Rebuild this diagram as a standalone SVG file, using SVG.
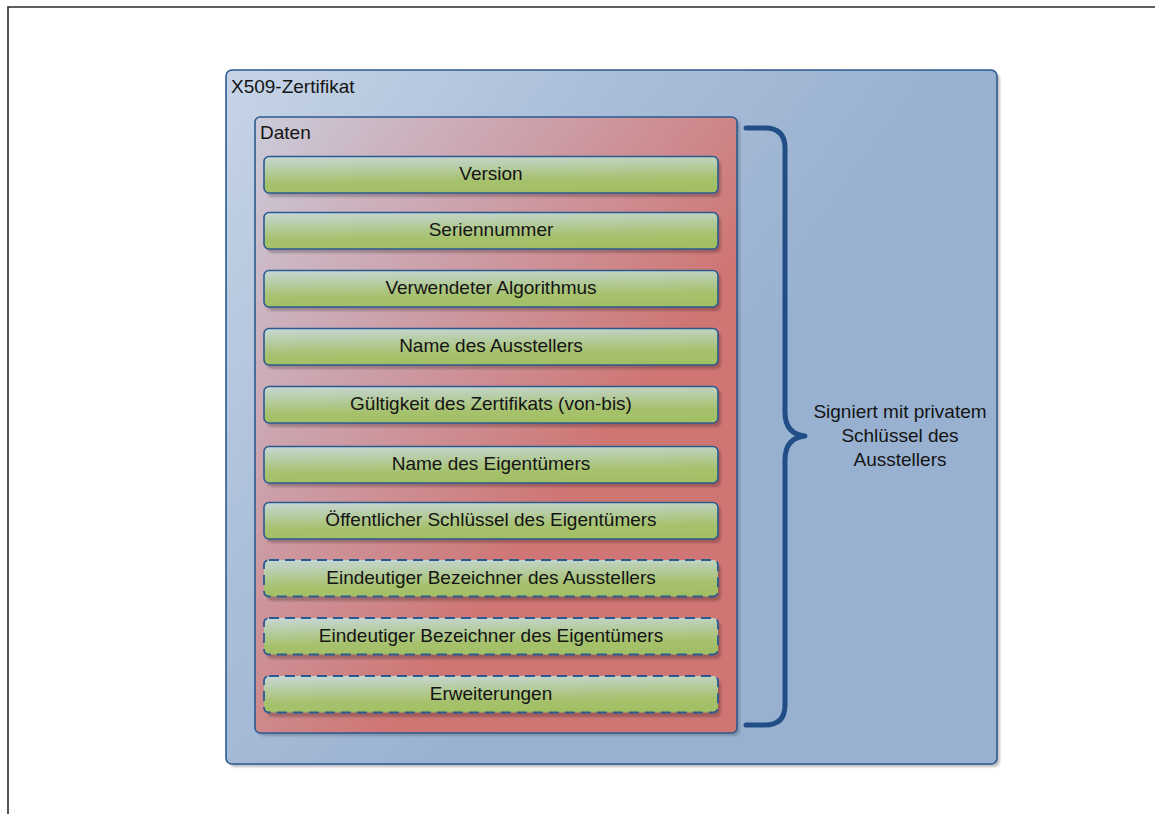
<svg xmlns="http://www.w3.org/2000/svg" width="1155" height="814" viewBox="0 0 1155 814">
  <style>
    text { font-family: "Liberation Sans", Arial, sans-serif; fill: #141414; }
    .lbl { font-size: 19px; }
    .field { font-size: 19px; text-anchor: middle; }
    .note { font-size: 19px; text-anchor: middle; }
    .shadow { fill: #000; opacity: 0.22; }
    .bar { fill: url(#gBar); stroke: #2b5a90; stroke-width: 1.6; }
    .opt { stroke-dasharray: 10 6; stroke-width: 1.8; }
  </style>
  <defs>
    <linearGradient id="gOuter" gradientUnits="userSpaceOnUse" x1="226" y1="70" x2="720" y2="430">
      <stop offset="0" stop-color="#c6d4e6"/>
      <stop offset="0.55" stop-color="#a9bdd8"/>
      <stop offset="1" stop-color="#98b1d0"/>
    </linearGradient>
    <linearGradient id="gData" gradientUnits="userSpaceOnUse" x1="255" y1="117" x2="640" y2="400">
      <stop offset="0" stop-color="#cbcbdb"/>
      <stop offset="0.45" stop-color="#cca3ad"/>
      <stop offset="1" stop-color="#cf7573"/>
    </linearGradient>
    <linearGradient id="gBar" x1="0" y1="0" x2="0.15" y2="1">
      <stop offset="0" stop-color="#c6d7d6"/>
      <stop offset="0.75" stop-color="#a5c16b"/>
      <stop offset="1" stop-color="#a3bf66"/>
    </linearGradient>
    <filter id="soft" x="-5%" y="-5%" width="110%" height="110%">
      <feGaussianBlur stdDeviation="0.8"/>
    </filter>
  </defs>

  <!-- page frame -->
  <path d="M8 814 V7 H1155" fill="none" stroke="#2a2a2a" stroke-width="1.6"/>

  <!-- certificate container -->
  <g id="x509-zertifikat">
    <rect x="229" y="73" width="771" height="694" rx="6" fill="#8a8a8a" opacity="0.55" filter="url(#soft)"/>
    <rect x="226" y="70" width="771" height="694" rx="6" fill="url(#gOuter)" stroke="#2b5a90" stroke-width="1.6"/>
    <text class="lbl" x="231" y="93">X509-Zertifikat</text>
  </g>

  <!-- data container -->
  <g id="daten">
    <rect x="258" y="120" width="482" height="616" rx="5" fill="#5a6a80" opacity="0.45" filter="url(#soft)"/>
    <rect x="255" y="117" width="482" height="616" rx="5" fill="url(#gData)" stroke="#2b5a90" stroke-width="1.6"/>
    <text class="lbl" x="260" y="139">Daten</text>
  </g>

  <!-- fields -->
  <g id="version">
    <rect class="shadow" x="267" y="160" width="454" height="37" rx="5" filter="url(#soft)"/>
    <rect class="bar" x="264" y="156.5" width="454" height="36.5" rx="5"/>
    <text class="field" x="491" y="180">Version</text>
  </g>
  <g id="seriennummer">
    <rect class="shadow" x="267" y="216" width="454" height="37" rx="5" filter="url(#soft)"/>
    <rect class="bar" x="264" y="212.5" width="454" height="36.5" rx="5"/>
    <text class="field" x="491" y="236">Seriennummer</text>
  </g>
  <g id="algorithmus">
    <rect class="shadow" x="267" y="274" width="454" height="37" rx="5" filter="url(#soft)"/>
    <rect class="bar" x="264" y="270.5" width="454" height="36.5" rx="5"/>
    <text class="field" x="491" y="294">Verwendeter Algorithmus</text>
  </g>
  <g id="name-aussteller">
    <rect class="shadow" x="267" y="332" width="454" height="37" rx="5" filter="url(#soft)"/>
    <rect class="bar" x="264" y="328.5" width="454" height="36.5" rx="5"/>
    <text class="field" x="491" y="352">Name des Ausstellers</text>
  </g>
  <g id="gueltigkeit">
    <rect class="shadow" x="267" y="390" width="454" height="37" rx="5" filter="url(#soft)"/>
    <rect class="bar" x="264" y="386.5" width="454" height="36.5" rx="5"/>
    <text class="field" x="491" y="410">Gültigkeit des Zertifikats (von-bis)</text>
  </g>
  <g id="name-eigentuemer">
    <rect class="shadow" x="267" y="450" width="454" height="37" rx="5" filter="url(#soft)"/>
    <rect class="bar" x="264" y="446.5" width="454" height="36.5" rx="5"/>
    <text class="field" x="491" y="470">Name des Eigentümers</text>
  </g>
  <g id="oeffentlicher-schluessel">
    <rect class="shadow" x="267" y="506" width="454" height="37" rx="5" filter="url(#soft)"/>
    <rect class="bar" x="264" y="502.5" width="454" height="36.5" rx="5"/>
    <text class="field" x="491" y="526">Öffentlicher Schlüssel des Eigentümers</text>
  </g>
  <g id="id-aussteller">
    <rect class="shadow" x="267" y="564" width="454" height="37" rx="5" filter="url(#soft)"/>
    <rect class="bar opt" x="264" y="560" width="454" height="36.5" rx="5"/>
    <text class="field" x="491" y="583.5">Eindeutiger Bezeichner des Ausstellers</text>
  </g>
  <g id="id-eigentuemer">
    <rect class="shadow" x="267" y="622" width="454" height="37" rx="5" filter="url(#soft)"/>
    <rect class="bar opt" x="264" y="618" width="454" height="36.5" rx="5"/>
    <text class="field" x="491" y="641.5">Eindeutiger Bezeichner des Eigentümers</text>
  </g>
  <g id="erweiterungen">
    <rect class="shadow" x="267" y="680" width="454" height="37" rx="5" filter="url(#soft)"/>
    <rect class="bar opt" x="264" y="676" width="454" height="36.5" rx="5"/>
    <text class="field" x="491" y="699.5">Erweiterungen</text>
  </g>

  <!-- signature brace and note -->
  <g id="connectors">
    <path d="M746 128 H765 Q785 128 785 148 V412 Q785 434 805 436 Q785 438 785 460 V705 Q785 725 765 725 H746"
          fill="none" stroke="#214e87" stroke-width="5" stroke-linecap="round" stroke-linejoin="round"/>
  </g>
  <g id="signatur">
    <text class="note" x="900" y="418">Signiert mit privatem</text>
    <text class="note" x="900" y="442">Schlüssel des</text>
    <text class="note" x="900" y="466">Ausstellers</text>
  </g>
</svg>
